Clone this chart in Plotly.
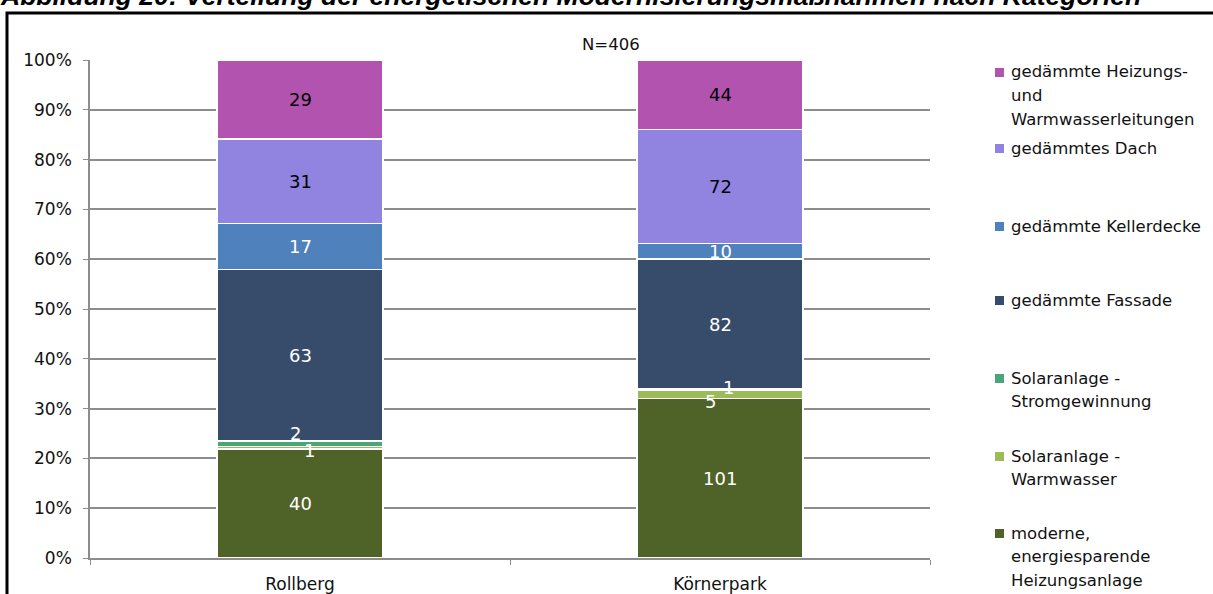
import plotly.graph_objects as go

# --- data -------------------------------------------------------------
categories = ["Rollberg", "Körnerpark"]

series_names = [
    "moderne,<br>energiesparende<br>Heizungsanlage",
    "Solaranlage -<br>Warmwasser",
    "Solaranlage -<br>Stromgewinnung",
    "gedämmte Fassade",
    "gedämmte Kellerdecke",
    "gedämmtes Dach",
    "gedämmte Heizungs-<br>und<br>Warmwasserleitungen",
]

heizungsanlage = [40, 101]
solar_warmwasser = [1, 5]
solar_strom = [2, 1]
fassade = [63, 82]
kellerdecke = [17, 10]
dach = [31, 72]
leitungen = [29, 44]

y_tick_values = [0, 10, 20, 30, 40, 50, 60, 70, 80, 90, 100]
y_tick_labels = ["0%", "10%", "20%", "30%", "40%", "50%", "60%", "70%", "80%", "90%", "100%"]

n_label = "N=406"
caption = "Abbildung 20: Verteilung der energetischen Modernisierungsmaßnahmen nach Kategorien"

# --- styling ----------------------------------------------------------
series_values = [heizungsanlage, solar_warmwasser, solar_strom, fassade,
                 kellerdecke, dach, leitungen]
colors = ["#4F6228", "#9BBB59", "#4AA67A", "#374C6B", "#4F81BD", "#9084E0", "#B353B0"]
label_colors = ["white", "white", "white", "white", "white", "black", "black"]
FONT = "DejaVu Sans"

# small segments get their value label nudged sideways (x, y shift in px)
label_shift = {
    (1, 0): (9, -3), (2, 0): (-5, 10),
    (1, 1): (-10, -7), (2, 1): (8, 2),
}

fig = go.Figure()
for name, vals, col in zip(series_names, series_values, colors):
    fig.add_trace(go.Bar(
        x=categories, y=vals, name=name,
        marker=dict(color=col, line=dict(color="white", width=1.5)),
        hoverinfo="skip",
    ))

# value labels centred in each stacked segment (percent of column total)
annotations = []
totals = [sum(v[i] for v in series_values) for i in range(len(categories))]
for ci, cat in enumerate(categories):
    base = 0.0
    for si, vals in enumerate(series_values):
        pct = vals[ci] / totals[ci] * 100
        mid = base + pct / 2
        base += pct
        dx, dy = label_shift.get((si, ci), (0, 0))
        annotations.append(dict(
            x=cat, y=mid, xref="x", yref="y", text=str(vals[ci]),
            showarrow=False, xshift=dx, yshift=dy,
            font=dict(family=FONT, size=18, color=label_colors[si]),
        ))

# plot geometry in pixels
L, R, T, B = 90, 930, 60, 558
W, H = 1213, 594


def px_x(p):
    return (p - L) / (R - L)


def px_y(p):
    return (B - p) / (B - T)


# legend drawn at right, top entry first; one annotation per text line
legend_centers = [533, 456, 378, 300, 226, 148, 72]
LINE_STEP = 23.5
shapes = []
for name, col, yc in zip(series_names, colors, legend_centers):
    shapes.append(dict(
        type="rect", xref="paper", yref="paper",
        x0=px_x(995), x1=px_x(1004), y0=px_y(yc + 5), y1=px_y(yc - 4),
        fillcolor=col, line=dict(color=col, width=0),
    ))
    for k, line in enumerate(name.split("<br>")):
        annotations.append(dict(
            x=px_x(1009), y=px_y(yc + k * LINE_STEP), xref="paper", yref="paper",
            xanchor="left", yanchor="middle", align="left", text=line,
            showarrow=False, font=dict(family=FONT, size=16.5, color="#111111"),
        ))

# outer frame (runs past the right and bottom edge)
shapes.append(dict(
    type="rect", xref="paper", yref="paper",
    x0=px_x(7), x1=px_x(1240), y0=px_y(640), y1=px_y(13),
    line=dict(color="black", width=3), fillcolor="rgba(0,0,0,0)", layer="above",
))

annotations.append(dict(
    x=px_x(611), y=px_y(44), xref="paper", yref="paper", text=n_label,
    xanchor="center", yanchor="middle",
    showarrow=False, font=dict(family=FONT, size=16.5, color="#111111"),
))
annotations.append(dict(
    x=px_x(-2), y=px_y(13), xref="paper", yref="paper",
    xanchor="left", yanchor="bottom", text=caption, showarrow=False,
    font=dict(family="Liberation Sans", size=26.5, color="black",
              style="italic", weight="bold"),
))

fig.update_layout(
    width=W, height=H, autosize=False,
    margin=dict(l=L, r=W - R, t=T, b=H - B, pad=0, autoexpand=False),
    barmode="stack", barnorm="percent", bargap=0.605,
    paper_bgcolor="white", plot_bgcolor="white",
    showlegend=False,
    font=dict(family=FONT, size=15, color="#111111"),
    annotations=annotations, shapes=shapes,
    xaxis=dict(
        automargin=False,
        showline=True, linecolor="#8C8C8C", linewidth=1.5,
        ticks="outside", tickson="boundaries", ticklen=5, tickcolor="#8C8C8C",
        tickfont=dict(family=FONT, size=17, color="#111111"),
        ticklabelstandoff=10,
        showgrid=False,
    ),
    yaxis=dict(
        automargin=False,
        range=[0, 100], tickvals=y_tick_values, ticktext=y_tick_labels,
        showline=True, linecolor="#8C8C8C", linewidth=1.5,
        ticks="outside", ticklen=5, tickcolor="#8C8C8C",
        showgrid=True, gridcolor="#8C8C8C", gridwidth=1.5,
        zeroline=False, ticklabelstandoff=8,
        tickfont=dict(family=FONT, size=17, color="#111111"),
    ),
)

fig.write_html("out.html")
